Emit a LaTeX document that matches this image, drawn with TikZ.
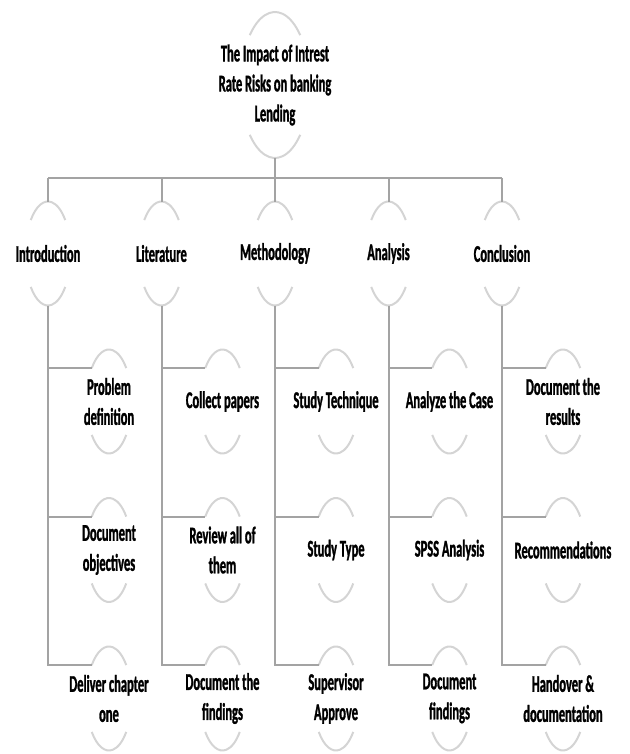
\documentclass[tikz,border=0pt]{standalone}
\usepackage{fontspec}
\setmainfont{Carlito}[FakeStretch=0.52,BoldFeatures={FakeBold=1.2}]
\usetikzlibrary{positioning}

\begin{document}
\begin{tikzpicture} [
  x=1pt, y=1pt,
  every node/.style={font=\fontsize{24}{30}\selectfont\bfseries,align=center,inner sep=0pt,on grid},
  arcline/.style={draw=black!17,line width=2pt},
  link/.style={draw=black!36,line width=2pt}
  ]
  \useasboundingbox (0,0) rectangle (629,-754);
  % top
  \node (root) at (275,-85) {The Impact of Intrest\\Rate Risks on banking\\Lending};
  % phases
  \node (c3) at (275,-253.5) {Methodology};
  \node (c2) [left=113.5 of c3] {Literature};
  \node (c1) [left=113.5 of c2] {Introduction};
  \node (c4) [right=113.5 of c3] {Analysis};
  \node (c5) [right=113.5 of c4] {Conclusion};
  % tasks
  \node (c1r1) [below right=148 and 61 of c1] {Problem\\definition};
  \node (c1r2) [below=148.5 of c1r1] {Document\\objectives};
  \node (c1r3) [below=148.5 of c1r2] {Deliver chapter\\one};
  \node (c2r1) [below right=148 and 61 of c2] {Collect papers};
  \node (c2r2) [below=148.5 of c2r1] {Review all of\\them};
  \node (c2r3) [below=148.5 of c2r2] {Document the\\findings};
  \node (c3r1) [below right=148 and 61 of c3] {Study Technique};
  \node (c3r2) [below=148.5 of c3r1] {Study Type};
  \node (c3r3) [below=148.5 of c3r2] {Supervisor\\Approve};
  \node (c4r1) [below right=148 and 61 of c4] {Analyze the Case};
  \node (c4r2) [below=148.5 of c4r1] {SPSS Analysis};
  \node (c4r3) [below=148.5 of c4r2] {Document\\findings};
  \node (c5r1) [below right=148 and 61 of c5] {Document the\\results};
  \node (c5r2) [below=148.5 of c5r1] {Recommendations};
  \node (c5r3) [below=148.5 of c5r2] {Handover \&\\documentation};

  % half circles
  \draw[arcline] ([shift={(137:34.5pt and 73pt)}]root.center) arc[start angle=137,end angle=43,x radius=34.5pt,y radius=73pt];
  \draw[arcline] ([shift={(223:34.5pt and 73pt)}]root.center) arc[start angle=223,end angle=317,x radius=34.5pt,y radius=73pt];
  \coordinate (root-bot) at ([yshift=-73pt]root.center);
  \foreach \k in {1,...,5} {
    \foreach \r in {,r1,r2,r3} {
      \draw[arcline] ([shift={(140:22.5pt and 52pt)}]c\k\r.center) arc[start angle=140,end angle=40,x radius=22.5pt,y radius=52pt];
      \draw[arcline] ([shift={(220:22.5pt and 52pt)}]c\k\r.center) arc[start angle=220,end angle=320,x radius=22.5pt,y radius=52pt];
      \coordinate (c\k\r-in) at ([shift={(140:22.5pt and 52pt)}]c\k\r.center);
      \coordinate (c\k\r-top) at ([yshift=52pt]c\k\r.center);
      \coordinate (c\k\r-bot) at ([yshift=-52pt]c\k\r.center);
    }
  }

  % connectors
  \coordinate (bus) at ([yshift=23.5pt]c3-top);
  \draw[link] (root-bot) -- (bus);
  \draw[link] (bus -| c1-top) -- (bus -| c5-top);
  \foreach \k in {1,...,5} {
    \draw[link] (bus -| c\k-top) -- (c\k-top);
    \draw[link] (c\k-bot) |- (c\k r3-in);
    \draw[link] (c\k r1-in -| c\k-bot) -- (c\k r1-in);
    \draw[link] (c\k r2-in -| c\k-bot) -- (c\k r2-in);
  }
\end{tikzpicture}
\end{document}
